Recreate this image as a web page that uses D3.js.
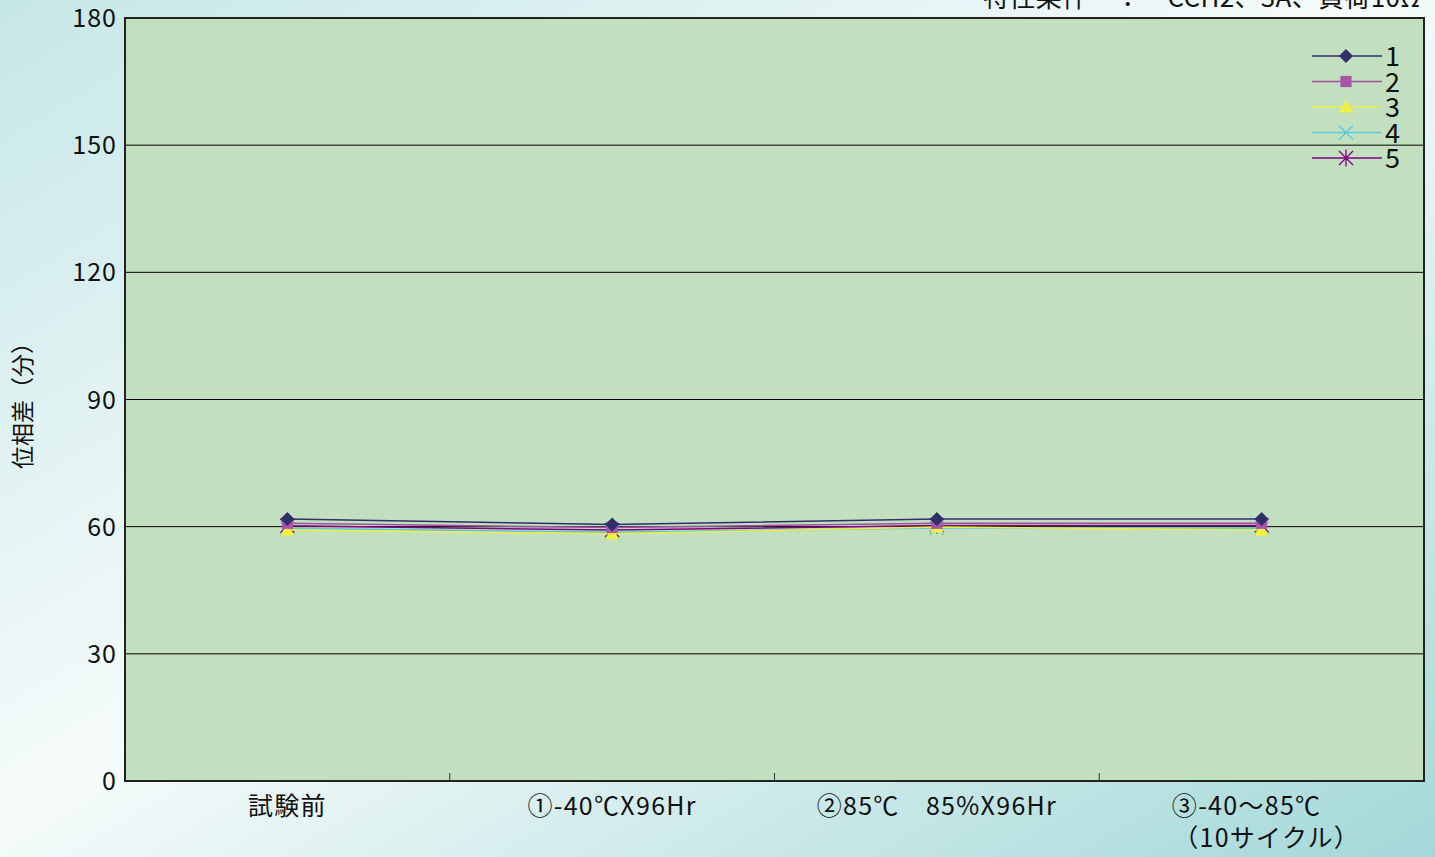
<!DOCTYPE html>
<html>
<head>
<meta charset="utf-8">
<script src="https://cdn.jsdelivr.net/npm/d3@7"></script>
<style>
  body { margin: 0; }
  svg text { font-family: "Noto Sans CJK JP", "DejaVu Sans", sans-serif; fill: #111; font-weight: 400; }
</style>
</head>
<body>
<div id="chart"></div>
<script>
// categories and series
var categories = ["試験前", "①-40℃X96Hr", "②85℃　85%X96Hr", "③-40～85℃|（10サイクル）"];
var seriesNames = ["1", "2", "3", "4", "5"];
var s1 = [61.8, 60.5, 61.8, 61.8];
var s2 = [60.8, 59.8, 60.8, 60.8];
var s3 = [59.2, 58.3, 59.9, 59.2];
var s4 = [59.6, 58.7, 59.7, 59.6];
var s5 = [60.2, 59.2, 60.3, 60.3];
var yTicks = [0, 30, 60, 90, 120, 150, 180];
var conditionText = "特性条件　：　CCH2、3A、負荷10Ω";

var seriesValues = [s1, s2, s3, s4, s5];
var colors = ["#2f2f6a", "#a050a0", "#ecec4a", "#5cc8d8", "#800080"];
var markerFill = ["#2f2f6a", "#a855a8", "#f0f040", "#5cc8d8", "#800080"];
var symbols = ["diamond", "square", "triangle", "x", "star"];

var width = 1435, height = 857;
var margin = {left: 125, right: 11, top: 18, bottom: 76};

var svg = d3.select("#chart").append("svg")
    .attr("width", width).attr("height", height);

var defs = svg.append("defs");
var grad = defs.append("linearGradient").attr("id", "bg")
    .attr("x1", "0").attr("y1", "0").attr("x2", "1").attr("y2", "1");
grad.append("stop").attr("offset", "0%").attr("stop-color", "#c6e7e7");
grad.append("stop").attr("offset", "48%").attr("stop-color", "#f6fbfb");
grad.append("stop").attr("offset", "100%").attr("stop-color", "#a3d8d8");

svg.append("rect").attr("width", width).attr("height", height).attr("fill", "url(#bg)");

var x = d3.scaleBand().domain(d3.range(categories.length))
    .range([margin.left, width - margin.right]);
var y = d3.scaleLinear().domain([0, 180])
    .range([height - margin.bottom, margin.top]);

// plot area
svg.append("rect")
    .attr("x", margin.left).attr("y", margin.top)
    .attr("width", width - margin.left - margin.right)
    .attr("height", height - margin.top - margin.bottom)
    .attr("fill", "#c2e0c0");

// gridlines
svg.append("g").selectAll("line")
    .data(yTicks.slice(1, -1))
    .enter().append("line")
    .attr("x1", margin.left).attr("x2", width - margin.right)
    .attr("y1", function(d) { return y(d); })
    .attr("y2", function(d) { return y(d); })
    .attr("stroke", "#000").attr("stroke-width", 1);

// category boundary ticks
svg.append("g").selectAll("line")
    .data(d3.range(1, categories.length))
    .enter().append("line")
    .attr("x1", function(i) { return x(i); })
    .attr("x2", function(i) { return x(i); })
    .attr("y1", y(0)).attr("y2", y(0) - 8)
    .attr("stroke", "#333");

// border
svg.append("rect")
    .attr("x", margin.left).attr("y", margin.top)
    .attr("width", width - margin.left - margin.right)
    .attr("height", height - margin.top - margin.bottom)
    .attr("fill", "none").attr("stroke", "#222").attr("stroke-width", 2);

// y tick labels
svg.append("g").selectAll("text")
    .data(yTicks)
    .enter().append("text")
    .attr("x", margin.left - 8)
    .attr("y", function(d) { return y(d); })
    .attr("dy", "0.36em")
    .attr("text-anchor", "end")
    .style("font-size", "25px")
    .style("letter-spacing", "1px")
    .text(function(d) { return d; });

// x labels
var lineShift = [-15, 5];
svg.append("g").selectAll("text")
    .data(categories)
    .enter().append("text")
    .attr("text-anchor", "middle")
    .style("font-size", "25px")
    .style("letter-spacing", "1.3px")
    .each(function(d, i) {
      var lines = d.split("|");
      var t = d3.select(this);
      lines.forEach(function(l, k) {
        t.append("tspan")
          .attr("x", x(i) + x.bandwidth() / 2 + (lines.length > 1 ? lineShift[k] : 0))
          .attr("y", 815 + k * 32)
          .text(l);
      });
    });

// y title
svg.append("text")
    .attr("transform", "translate(31,400) rotate(-90)")
    .attr("text-anchor", "middle")
    .style("font-size", "23px")
    .text("位相差（分）");

// top condition text (cut at the top edge)
svg.append("text")
    .attr("x", 983).attr("y", 7)
    .attr("textLength", 437)
    .attr("lengthAdjust", "spacing")
    .style("font-size", "26px")
    .text(conditionText);

function markerPath(type, s) {
  if (type === "x") return "M" + (-s) + "," + (-s) + "L" + s + "," + s + "M" + (-s) + "," + s + "L" + s + "," + (-s);
  if (type === "star") return "M" + (-s) + "," + (-s) + "L" + s + "," + s + "M" + (-s) + "," + s + "L" + s + "," + (-s) + "M0," + (-s * 1.2) + "L0," + (s * 1.2);
  if (type === "diamond") return "M0," + (-s) + "L" + s + ",0L0," + s + "L" + (-s) + ",0Z";
  if (type === "square") { var h = s * 0.8; return "M" + (-h) + "," + (-h) + "H" + h + "V" + h + "H" + (-h) + "Z"; }
  return "M0," + (-s) + "L" + s + "," + (s * 0.8) + "L" + (-s) + "," + (s * 0.8) + "Z";
}

function drawMarker(g, i, cx, cy) {
  var open = symbols[i] === "x" || symbols[i] === "star";
  g.append("path")
    .attr("transform", "translate(" + cx + "," + cy + ")")
    .attr("d", markerPath(symbols[i], 7))
    .attr("fill", open ? "none" : markerFill[i])
    .attr("stroke", open ? colors[i] : "none")
    .attr("stroke-width", 1.3);
}

var line = d3.line()
    .x(function(d, i) { return x(i) + x.bandwidth() / 2; })
    .y(function(d) { return y(d); });

// draw in reverse so series 1 ends on top
for (var k = seriesValues.length - 1; k >= 0; k--) {
  var g = svg.append("g");
  g.append("path").datum(seriesValues[k])
    .attr("d", line)
    .attr("fill", "none")
    .attr("stroke", colors[k])
    .attr("stroke-width", 1.5);
  seriesValues[k].forEach(function(v, i) {
    drawMarker(g, k, x(i) + x.bandwidth() / 2, y(v));
  });
}

// legend
var lg = svg.append("g");
seriesNames.forEach(function(name, i) {
  var ly = 56 + i * 25.5;
  lg.append("line")
    .attr("x1", 1312).attr("x2", 1382)
    .attr("y1", ly).attr("y2", ly)
    .attr("stroke", colors[i]).attr("stroke-width", 1.3);
  drawMarker(lg, i, 1346, ly);
  lg.append("text")
    .attr("x", 1385).attr("y", ly)
    .attr("dy", "0.38em")
    .style("font-size", "27px")
    .text(name);
});
</script>
</body>
</html>
